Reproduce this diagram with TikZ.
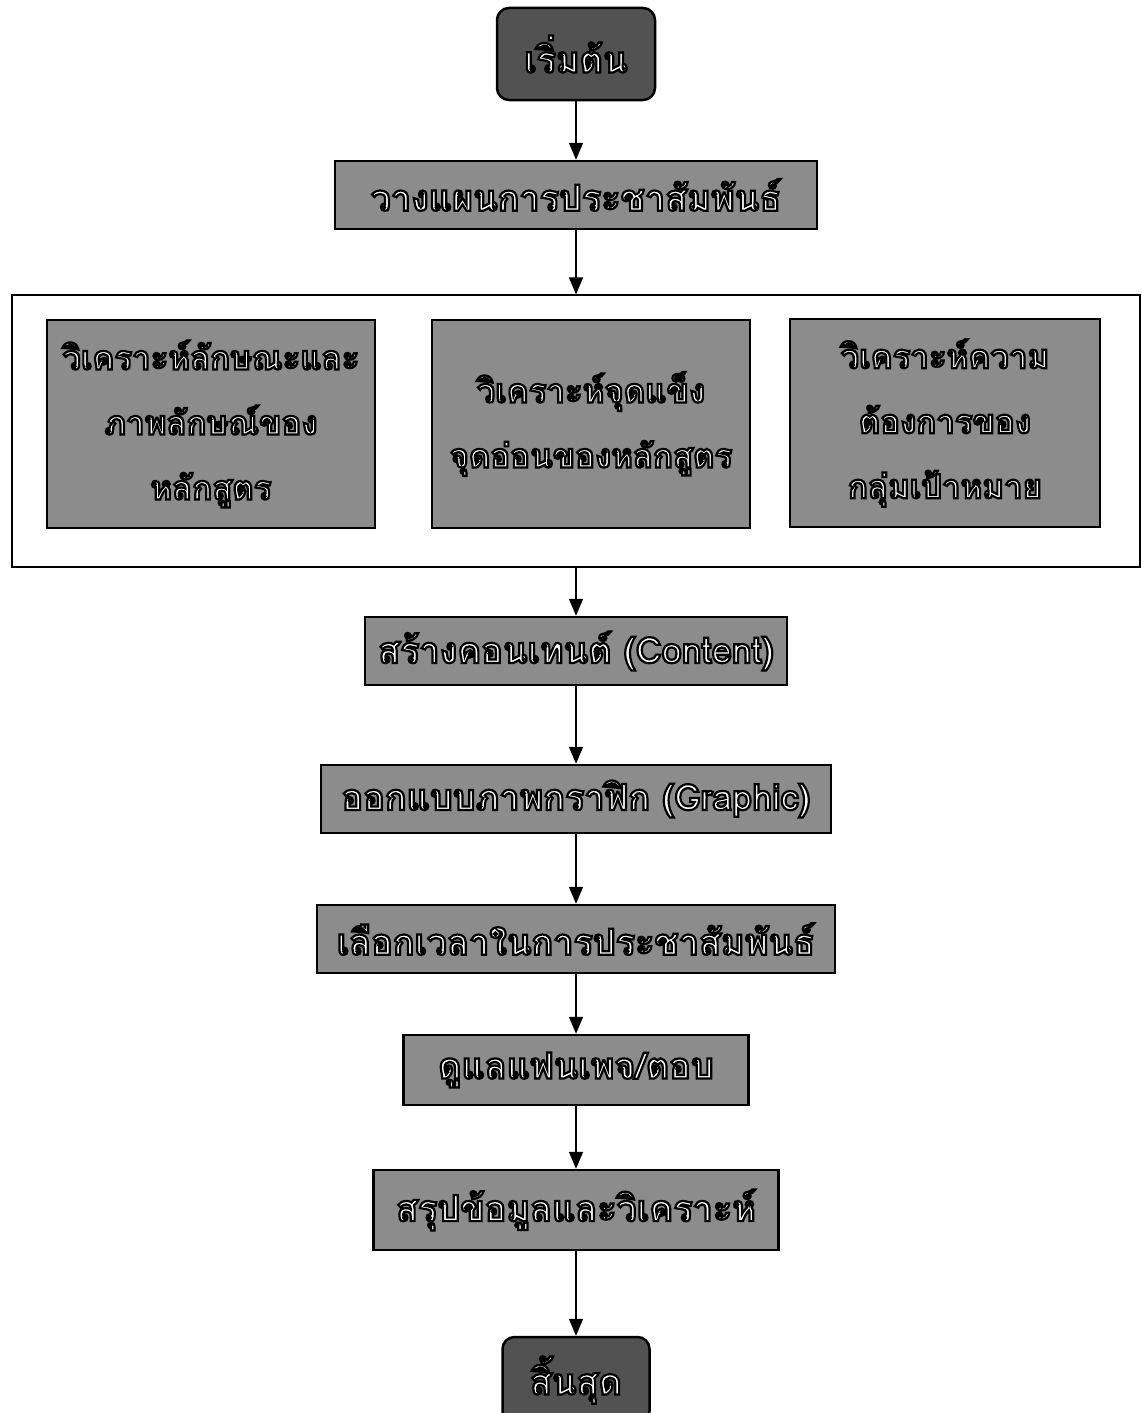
\documentclass[tikz,border=0pt]{standalone}
\usepackage{fontspec}
\newfontfamily\thaifont[Script=Thai]{Loma}
\usetikzlibrary{arrows.meta, positioning}
\definecolor{boxgray}{HTML}{8C8C8C}
\definecolor{startgray}{HTML}{525252}
% white letters with a dark rim, as in the scan
\newcommand{\rimtext}[1]{\special{pdf:literal direct 2 Tr 2.2 w 0 0 0 RG}#1\special{pdf:literal direct 0 Tr}}
\begin{document}
\begin{tikzpicture}[x=1pt, y=-1pt,
    every node/.style={inner sep=0pt},
    stepbox/.style={draw=black, line width=2.5pt, fill=boxgray, text=white,
      font=\thaifont\bfseries\fontsize{36}{64}\selectfont, minimum height=68pt},
    tripbox/.style={stepbox, minimum height=208pt, align=center,
      font=\thaifont\bfseries\fontsize{33}{65}\selectfont},
    termbox/.style={stepbox, fill=startgray, rounded corners=12pt},
    flow/.style={-{Triangle[length=17pt,width=14pt]}, line width=1.8pt}]
  \useasboundingbox (0,0) rectangle (1141,1413);

  \node[termbox, minimum width=158pt, minimum height=92pt] (start) at (576,54) {\rimtext{เริ่มต้น}};
  \node[stepbox, minimum width=482pt] (plan) at (576,195) {\rimtext{วางแผนการประชาสัมพันธ์}};

  % analysis frame
  \node[draw=black, line width=1.2pt, fill=white, minimum width=1128pt, minimum height=272pt] (frame) at (576,431) {};
  \node[tripbox, minimum width=328pt] (image) at (211,424) {\rimtext{วิเคราะห์ลักษณะและ}\\ \rimtext{ภาพลักษณ์ของ}\\ \rimtext{หลักสูตร}};
  \node[tripbox, minimum width=318pt] (swot) at (591,424) {\rimtext{วิเคราะห์จุดแข็ง}\\ \rimtext{จุดอ่อนของหลักสูตร}};
  \node[tripbox, minimum width=310pt] (target) at (945,423) {\rimtext{วิเคราะห์ความ}\\ \rimtext{ต้องการของ}\\ \rimtext{กลุ่มเป้าหมาย}};

  \node[stepbox, minimum width=422pt] (content) at (576,651) {\rimtext{สร้างคอนเทนต์ (Content)}};
  \node[stepbox, minimum width=510pt] (graphic) at (576,799) {\rimtext{ออกแบบภาพกราฟิก (Graphic)}};
  \node[stepbox, minimum width=518pt] (timing) at (576,939) {\rimtext{เลือกเวลาในการประชาสัมพันธ์}};
  \node[stepbox, minimum width=345pt, minimum height=70pt] (fanpage) at (576,1070) {\rimtext{ดูแลแฟนเพจ/ตอบ}};
  \node[stepbox, minimum width=405pt, minimum height=80pt] (summary) at (576,1210) {\rimtext{สรุปข้อมูลและวิเคราะห์}};
  \node[termbox, minimum width=147pt, minimum height=86pt] (finish) at (576,1380) {\rimtext{สิ้นสุด}};

  \draw[flow] (start) -- (plan);
  \draw[flow] (plan) -- (frame);
  \draw[flow] (frame) -- (content);
  \draw[flow] (content) -- (graphic);
  \draw[flow] (graphic) -- (timing);
  \draw[flow] (timing) -- (fanpage);
  \draw[flow] (fanpage) -- (summary);
  \draw[flow] (summary) -- (finish);
\end{tikzpicture}
\end{document}
